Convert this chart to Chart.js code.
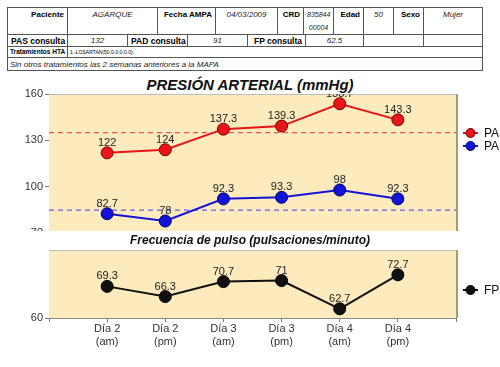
<!DOCTYPE html>
<html>
<head>
<meta charset="utf-8">
<script src="https://cdn.jsdelivr.net/npm/chart.js@4"></script>
<style>
  body { margin: 0; background: #fff; width: 500px; height: 367px; overflow: hidden; position: relative; font-family: "Liberation Sans", Arial, sans-serif; }
  .cell { position: absolute; box-sizing: border-box; border: 1px solid #555; font-size: 8px; color: #000; padding: 2px 3px; white-space: nowrap; overflow: hidden; }
  .lab { font-weight: bold; text-align: right; }
  .val { font-style: italic; text-align: center; color: #222; }
  .titulo { position: absolute; left: 0; width: 500px; text-align: center; font-weight: bold; font-style: italic; color: #111; }
  canvas { position: absolute; left: 0; }
</style>
</head>
<body>
<div id="tabla"></div>
<div class="titulo" style="top:75px;height:19px;line-height:19px;font-size:15px;">PRESIÓN ARTERIAL (mmHg)</div>
<canvas id="chartPA" width="500" height="167" style="top:75px"></canvas>
<canvas id="chartFP" width="500" height="136" style="top:231px;background:#fff"></canvas>
<div class="titulo" style="top:232px;height:17px;line-height:17px;font-size:12px;">Frecuencia de pulso (pulsaciones/minuto)</div>
<script>
// datos
const dias = [["Día 2", "(am)"], ["Día 2", "(pm)"], ["Día 3", "(am)"], ["Día 3", "(pm)"], ["Día 4", "(am)"], ["Día 4", "(pm)"]];
const pas = [122, 124, 137.3, 139.3, 153.7, 143.3];
const pad = [82.7, 78, 92.3, 93.3, 98, 92.3];
const fp = [69.3, 66.3, 70.7, 71, 62.7, 72.7];
const limitePAS = 135;
const limitePAD = 85;
const ticksPA = [160, 130, 100, 70];
const ticksFP = [60];

// tabla de cabecera: [x1, x2, y1, y2, texto, clase, estilo extra]
const celdas = [
  [7, 67, 7, 34, "Paciente", "lab"],
  [67, 157, 7, 34, "AGARQUE", "val"],
  [157, 215, 7, 34, "Fecha AMPA", "lab"],
  [215, 277, 7, 34, "04/03/2009", "val"],
  [277, 303, 7, 34, "CRD", "lab"],
  [303, 333, 7, 34, "835844<br>00004", "val", "line-height:13px;padding-top:0;font-size:7px"],
  [333, 363, 7, 34, "Edad", "lab"],
  [363, 393, 7, 34, "50", "val"],
  [393, 423, 7, 34, "Sexo", "lab"],
  [423, 482, 7, 34, "Mujer", "val"],
  [7, 67, 34, 46, "PAS consulta", "lab", "font-size:8.5px;padding-top:1px"],
  [67, 127, 34, 46, "132", "val", "padding-top:1px"],
  [127, 187, 34, 46, "PAD consulta", "lab", "font-size:8.5px;padding-top:1px"],
  [187, 247, 34, 46, "91", "val", "padding-top:1px"],
  [247, 305, 34, 46, "FP consulta", "lab", "font-size:8.5px;padding-top:1px"],
  [305, 363, 34, 46, "62.5", "val", "padding-top:1px"],
  [363, 423, 34, 46, "", ""],
  [423, 482, 34, 46, "", ""],
  [7, 67, 46, 57, "Tratamientos HTA", "lab", "font-size:6.5px;padding:1px 2px;text-align:left"],
  [67, 482, 46, 57, "1.-LOSARTAN(50.0-0.0-0.0);", "", "font-size:5px;padding:2px 2px"],
  [7, 482, 57, 70, "Sin otros tratamientos las 2 semanas anteriores a la MAPA", "", "font-style:italic;padding:2px 2px;color:#222"]
];
const tabla = document.getElementById("tabla");
celdas.forEach(function (c) {
  const d = document.createElement("div");
  d.className = "cell " + c[5];
  d.style.cssText = "left:" + c[0] + "px;top:" + c[2] + "px;width:" + (c[1] - c[0] + 1) + "px;height:" + (c[3] - c[2] + 1) + "px;" + (c[6] || "");
  d.innerHTML = c[4];
  tabla.appendChild(d);
});

const fuente = "'Liberation Sans', Arial, sans-serif";
const etiquetas = [""].concat(dias.map(d => d), [""]);
const rellenar = arr => [null].concat(arr, [null]);
const constante = v => etiquetas.map(() => v);

// fondo, bordes, etiquetas de valores y leyenda
const adornos = {
  id: "adornos",
  beforeDatasetsDraw(chart) {
    const a = chart.chartArea, ctx = chart.ctx;
    ctx.save();
    ctx.fillStyle = "#FDEBBE";
    ctx.fillRect(a.left, a.top, a.right - a.left, a.bottom - a.top);
    ctx.strokeStyle = "#bbb";
    ctx.lineWidth = 1;
    ctx.beginPath();
    ctx.moveTo(a.left, a.top + 0.5);
    ctx.lineTo(a.right, a.top + 0.5);
    ctx.stroke();
    ctx.strokeStyle = "#A89878";
    ctx.lineWidth = 2;
    ctx.beginPath();
    ctx.moveTo(a.right + 1, a.top);
    ctx.lineTo(a.right + 1, a.bottom);
    ctx.stroke();
    ctx.restore();
  },
  afterDatasetsDraw(chart) {
    const a = chart.chartArea, ctx = chart.ctx;
    ctx.save();
    ctx.beginPath();
    ctx.rect(a.left, a.top, a.right - a.left, a.bottom - a.top);
    ctx.clip();
    ctx.font = "11px " + fuente;
    ctx.fillStyle = "#222";
    ctx.textAlign = "center";
    ctx.textBaseline = "middle";
    chart.data.datasets.forEach(function (ds, i) {
      if (!ds.conEtiqueta) return;
      chart.getDatasetMeta(i).data.forEach(function (p, j) {
        if (ds.data[j] == null) return;
        ctx.fillText(String(ds.data[j]), p.x, p.y - 10);
      });
    });
    ctx.restore();

    // leyenda
    ctx.save();
    ctx.font = "12px " + fuente;
    ctx.textBaseline = "middle";
    chart.options.leyenda.forEach(function (l) {
      ctx.strokeStyle = l.color;
      ctx.lineWidth = 2;
      ctx.beginPath();
      ctx.moveTo(463, l.y);
      ctx.lineTo(478, l.y);
      ctx.stroke();
      ctx.fillStyle = l.color;
      ctx.strokeStyle = l.borde;
      ctx.lineWidth = 1;
      ctx.beginPath();
      ctx.arc(470.5, l.y, 4.5, 0, Math.PI * 2);
      ctx.fill();
      ctx.stroke();
      ctx.fillStyle = "#111";
      ctx.fillText(l.texto, 484, l.y + 0.5);
    });
    ctx.restore();
  }
};

function serie(label, data, color, borde) {
  return {
    label: label, data: rellenar(data), conEtiqueta: true,
    borderColor: color, borderWidth: 2, backgroundColor: color,
    pointRadius: 6, pointHoverRadius: 6, pointBorderColor: borde, pointBorderWidth: 1,
    pointBackgroundColor: color, tension: 0, order: 1
  };
}
function limite(v, color) {
  return {
    data: constante(v), borderColor: color, borderWidth: 1.3, borderDash: [5, 4],
    pointRadius: 0, pointHoverRadius: 0, order: 2
  };
}

const ejeY = function (min, max, valores) {
  return {
    min: min, max: max,
    afterBuildTicks: s => { s.ticks = valores.map(v => ({ value: v })); },
    afterFit: s => { s.width = 49; },
    ticks: { color: "#333", font: { size: 11, family: fuente }, padding: 2 },
    grid: { drawOnChartArea: false, drawTicks: true, tickLength: 4, color: "#777" },
    border: { display: true, color: "#888", width: 1 }
  };
};

new Chart(document.getElementById("chartPA"), {
  type: "line",
  data: {
    labels: etiquetas,
    datasets: [
      serie("PAS", pas, "#E8141B", "#7a0000"),
      serie("PAD", pad, "#1414D8", "#00006a"),
      limite(limitePAS, "#F05050"),
      limite(limitePAD, "#6A5CE6")
    ]
  },
  options: {
    responsive: false, animation: false, spanGaps: false,
    layout: { padding: { top: 19, right: 44, bottom: 1.5, left: 0 } },
    plugins: { legend: { display: false }, tooltip: { enabled: false } },
    leyenda: [
      { texto: "PAS", color: "#E8141B", borde: "#7a0000", y: 58 },
      { texto: "PAD", color: "#1414D8", borde: "#00006a", y: 71 }
    ],
    scales: {
      x: { display: false, offset: false },
      y: ejeY(70, 160, ticksPA)
    }
  },
  plugins: [adornos]
});

new Chart(document.getElementById("chartFP"), {
  type: "line",
  data: {
    labels: etiquetas,
    datasets: [serie("FP", fp, "#111", "#000")]
  },
  options: {
    responsive: false, animation: false,
    layout: { padding: { top: 19, right: 44, bottom: 0, left: 0 } },
    plugins: { legend: { display: false }, tooltip: { enabled: false } },
    leyenda: [{ texto: "FP", color: "#111", borde: "#000", y: 59 }],
    scales: {
      x: {
        offset: false,
        afterFit: s => { s.height = 49; },
        ticks: { color: "#333", font: { size: 11, family: fuente, lineHeight: 1.15 }, padding: 1, maxRotation: 0, autoSkip: false },
        grid: { drawOnChartArea: false, drawTicks: true, tickLength: 4, color: "#777" },
        border: { display: true, color: "#888", width: 1 }
      },
      y: ejeY(60, 80, ticksFP)
    }
  },
  plugins: [adornos]
});
</script>
</body>
</html>
